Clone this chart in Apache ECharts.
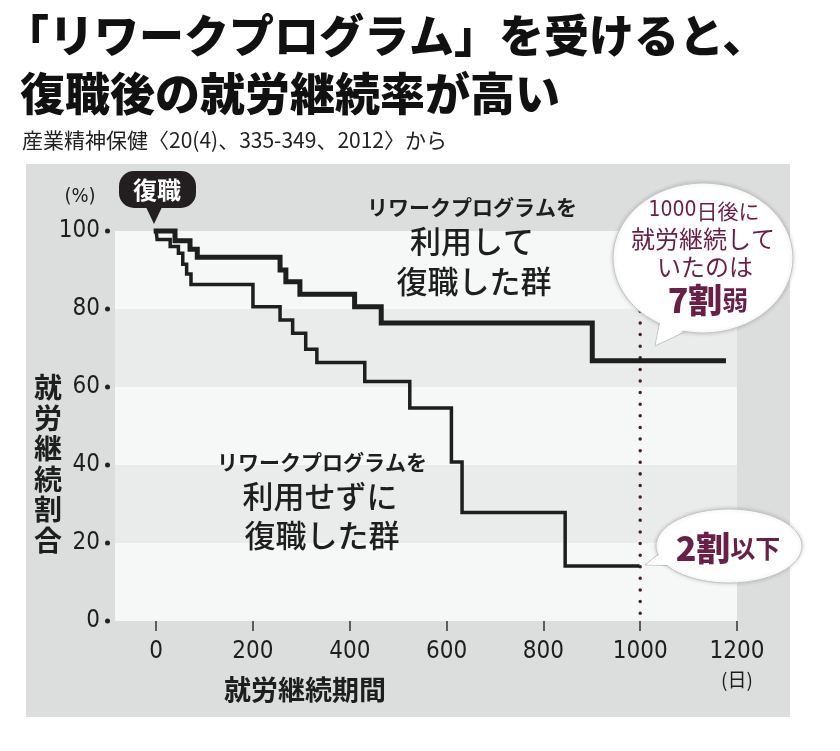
<!DOCTYPE html>
<html><head><meta charset="utf-8">
<script src="https://cdn.jsdelivr.net/npm/echarts@6/dist/echarts.min.js"></script>
<style>html,body{margin:0;padding:0;background:#fff}#c{width:840px;height:751px}</style>
</head><body><div id="c"></div>
<script>
// ---- data ----
const xTicks = [0, 200, 400, 600, 800, 1000, 1200];
const yTicks = [0, 20, 40, 60, 80, 100];
const withProgramDays = [0, 39, 70, 85, 256, 268, 297, 410, 465, 901, 1172];
const withProgramRate = [100, 97.5, 95.3, 93.3, 90, 87, 83.8, 80.6, 76.4, 66.7, 66.7];
const withoutProgramDays = [0, 2, 29, 46, 55, 63, 72, 200, 256, 282, 309, 332, 431, 524, 610, 632, 845, 995];
const withoutProgramRate = [100, 97.8, 96, 94.3, 91.5, 89, 86.3, 80.6, 77.2, 73.8, 69.7, 66.3, 61.4, 54.6, 40.8, 27.8, 14.1, 14.1];
const markerDay = 1000;
const markerSpan = [2, 92];

const CJK = "'Noto Sans CJK JP', sans-serif";
const NUM = "'Liberation Sans Narrow', 'DejaVu Sans Condensed', 'Noto Sans', sans-serif";
const MAROON = '#6a1f47';
const INK = '#1e1e1e';

const pair = (xs, ys) => xs.map((x, i) => [x, ys[i]]);

const chart = echarts.init(document.getElementById('c'), null, { renderer: 'canvas' });

const option = {
  backgroundColor: '#ffffff',
  animation: false,
  grid: { left: 115, right: 103, top: 231, bottom: 130 },
  xAxis: {
    type: 'value', min: -85, max: 1200,
    offset: 6,
    axisLine: { show: false },
    axisTick: { show: true, customValues: xTicks, length: 10, lineStyle: { color: '#333', width: 1.5 } },
    axisLabel: { customValues: xTicks, formatter: v => String(v), margin: 13, color: INK, fontSize: 24, fontFamily: NUM },
    splitLine: { show: false }
  },
  yAxis: {
    type: 'value', min: 0, max: 100, interval: 20,
    axisLine: { show: false }, axisTick: { show: false }, splitLine: { show: false },
    splitArea: { show: true, areaStyle: { color: ['#f6f7f7', '#eaecec'] } },
    axisLabel: {
      margin: 5,
      formatter: v => `{n|${v}}{g|}{d|}`,
      rich: {
        n: { fontSize: 24, fontFamily: NUM, color: INK },
        g: { width: 5 },
        d: { width: 5, height: 5, borderRadius: 3, backgroundColor: '#222' }
      }
    }
  },
  series: [
    {
      name: 'marker', type: 'line', data: markerSpan.map(v => [markerDay, v]),
      symbol: 'none', z: 1,
      lineStyle: { color: '#4a1d35', width: 3.5, type: [0.01, 11.6], cap: 'round' }
    },
    {
      name: 'リワークプログラムを利用せずに復職した群', type: 'line', step: 'end',
      data: pair(withoutProgramDays, withoutProgramRate), symbol: 'none', clip: false, z: 3,
      lineStyle: { color: INK, width: 3.5, join: 'miter', cap: 'square' }
    },
    {
      name: 'リワークプログラムを利用して復職した群', type: 'line', step: 'end',
      data: pair(withProgramDays, withProgramRate), symbol: 'none', clip: false, z: 4,
      lineStyle: { color: INK, width: 5, join: 'miter', cap: 'square' }
    }
  ],
  graphic: [
    { type: 'rect', z: -10, silent: true, shape: { x: 26, y: 164, width: 764, height: 553 }, style: { fill: '#dcdede' } },
    // title
    { type: 'text', z: 50, left: 4, top: 13, style: { text: '「リワークプログラム」を受けると、', font: `900 45px ${CJK}`, fill: '#111' } },
    { type: 'text', z: 50, left: 20, top: 71, style: { text: '復職後の就労継続率が高い', font: `900 45px ${CJK}`, fill: '#111' } },
    { type: 'text', z: 50, left: 22, top: 130, style: { text: '産業精神保健〈20(4)、335-349、2012〉から', font: `400 21px ${CJK}`, fill: '#222' } },
    // axis titles
    { type: 'text', z: 50, x: 80, y: 197, style: { text: '(%)', font: `400 20px ${NUM}`, fill: INK, align: 'center', verticalAlign: 'middle' } },
    { type: 'text', z: 50, x: 48, y: 464, style: { text: '就\n労\n継\n続\n割\n合', font: `700 28px ${CJK}`, lineHeight: 30.5, fill: INK, align: 'center', verticalAlign: 'middle' } },
    { type: 'text', z: 50, x: 305, y: 690, style: { text: '就労継続期間', font: `700 27px ${CJK}`, fill: INK, align: 'center', verticalAlign: 'middle' } },
    { type: 'text', z: 50, x: 737, y: 680, style: { text: '(日)', font: `400 19px ${CJK}`, fill: INK, align: 'center', verticalAlign: 'middle' } },
    // group labels
    { type: 'text', z: 50, x: 472, y: 207, style: { text: 'リワークプログラムを', font: `700 21px ${CJK}`, fill: INK, align: 'center', verticalAlign: 'middle' } },
    { type: 'text', z: 50, x: 472, y: 241, style: { text: '利用して', font: `500 31px ${CJK}`, fill: INK, align: 'center', verticalAlign: 'middle' } },
    { type: 'text', z: 50, x: 474, y: 281, style: { text: '復職した群', font: `500 31px ${CJK}`, fill: INK, align: 'center', verticalAlign: 'middle' } },
    { type: 'text', z: 50, x: 322, y: 462, style: { text: 'リワークプログラムを', font: `700 21px ${CJK}`, fill: INK, align: 'center', verticalAlign: 'middle' } },
    { type: 'text', z: 50, x: 320, y: 496, style: { text: '利用せずに', font: `500 31px ${CJK}`, fill: INK, align: 'center', verticalAlign: 'middle' } },
    { type: 'text', z: 50, x: 322, y: 535, style: { text: '復職した群', font: `500 31px ${CJK}`, fill: INK, align: 'center', verticalAlign: 'middle' } },
    // 復職 bubble
    { type: 'polygon', z: 60, shape: { points: [[145, 205], [163, 205], [154, 224]] }, style: { fill: '#231f20' } },
    { type: 'rect', z: 60, shape: { x: 119, y: 171, width: 77, height: 37, r: 15 }, style: { fill: '#231f20' } },
    { type: 'text', z: 61, x: 157, y: 190, style: { text: '復職', font: `700 24px ${CJK}`, fill: '#fff', align: 'center', verticalAlign: 'middle' } },
    // 7割弱 bubble
    { type: 'polygon', z: 60, shape: { points: [[664, 300], [706, 322], [655, 346]] }, style: { fill: '#fff', stroke: '#c4c4c4', lineWidth: 1 } },
    { type: 'ellipse', z: 60, shape: { cx: 703, cy: 258, rx: 90, ry: 75 }, style: { fill: '#fff', stroke: '#c4c4c4', lineWidth: 1, shadowBlur: 4, shadowColor: 'rgba(0,0,0,0.18)' } },
    { type: 'polygon', z: 60, shape: { points: [[665, 299], [704, 320], [656, 344]] }, style: { fill: '#fff' } },
    { type: 'text', z: 61, x: 704, y: 211, style: { text: '{n|1000}{k|日後に}', align: 'center', verticalAlign: 'middle', rich: { n: { font: `400 21px ${NUM}`, fill: MAROON }, k: { font: `400 21px ${CJK}`, fill: MAROON } } } },
    { type: 'text', z: 61, x: 703, y: 239, style: { text: '就労継続して', font: `400 24px ${CJK}`, fill: MAROON, align: 'center', verticalAlign: 'middle' } },
    { type: 'text', z: 61, x: 705, y: 267, style: { text: 'いたのは', font: `400 24px ${CJK}`, fill: MAROON, align: 'center', verticalAlign: 'middle' } },
    { type: 'text', z: 61, x: 708, y: 300, style: { text: '{a|7割}{b|弱}', align: 'center', verticalAlign: 'middle', rich: { a: { font: `900 34px ${CJK}`, fill: MAROON }, b: { font: `700 26px ${CJK}`, fill: MAROON } } } },
    // 2割以下 bubble
    { type: 'polygon', z: 60, shape: { points: [[668, 546], [690, 566], [645, 565]] }, style: { fill: '#fff', stroke: '#c4c4c4', lineWidth: 1 } },
    { type: 'ellipse', z: 60, shape: { cx: 729, cy: 546, rx: 73, ry: 37 }, style: { fill: '#fff', stroke: '#c4c4c4', lineWidth: 1, shadowBlur: 4, shadowColor: 'rgba(0,0,0,0.18)' } },
    { type: 'polygon', z: 60, shape: { points: [[669, 547], [689, 565], [647, 564.5]] }, style: { fill: '#fff' } },
    { type: 'text', z: 61, x: 728, y: 548, style: { text: '{a|2割}{b|以下}', align: 'center', verticalAlign: 'middle', rich: { a: { font: `900 34px ${CJK}`, fill: MAROON }, b: { font: `700 25px ${CJK}`, fill: MAROON } } } }
  ]
};
chart.setOption(option);
</script></body></html>
